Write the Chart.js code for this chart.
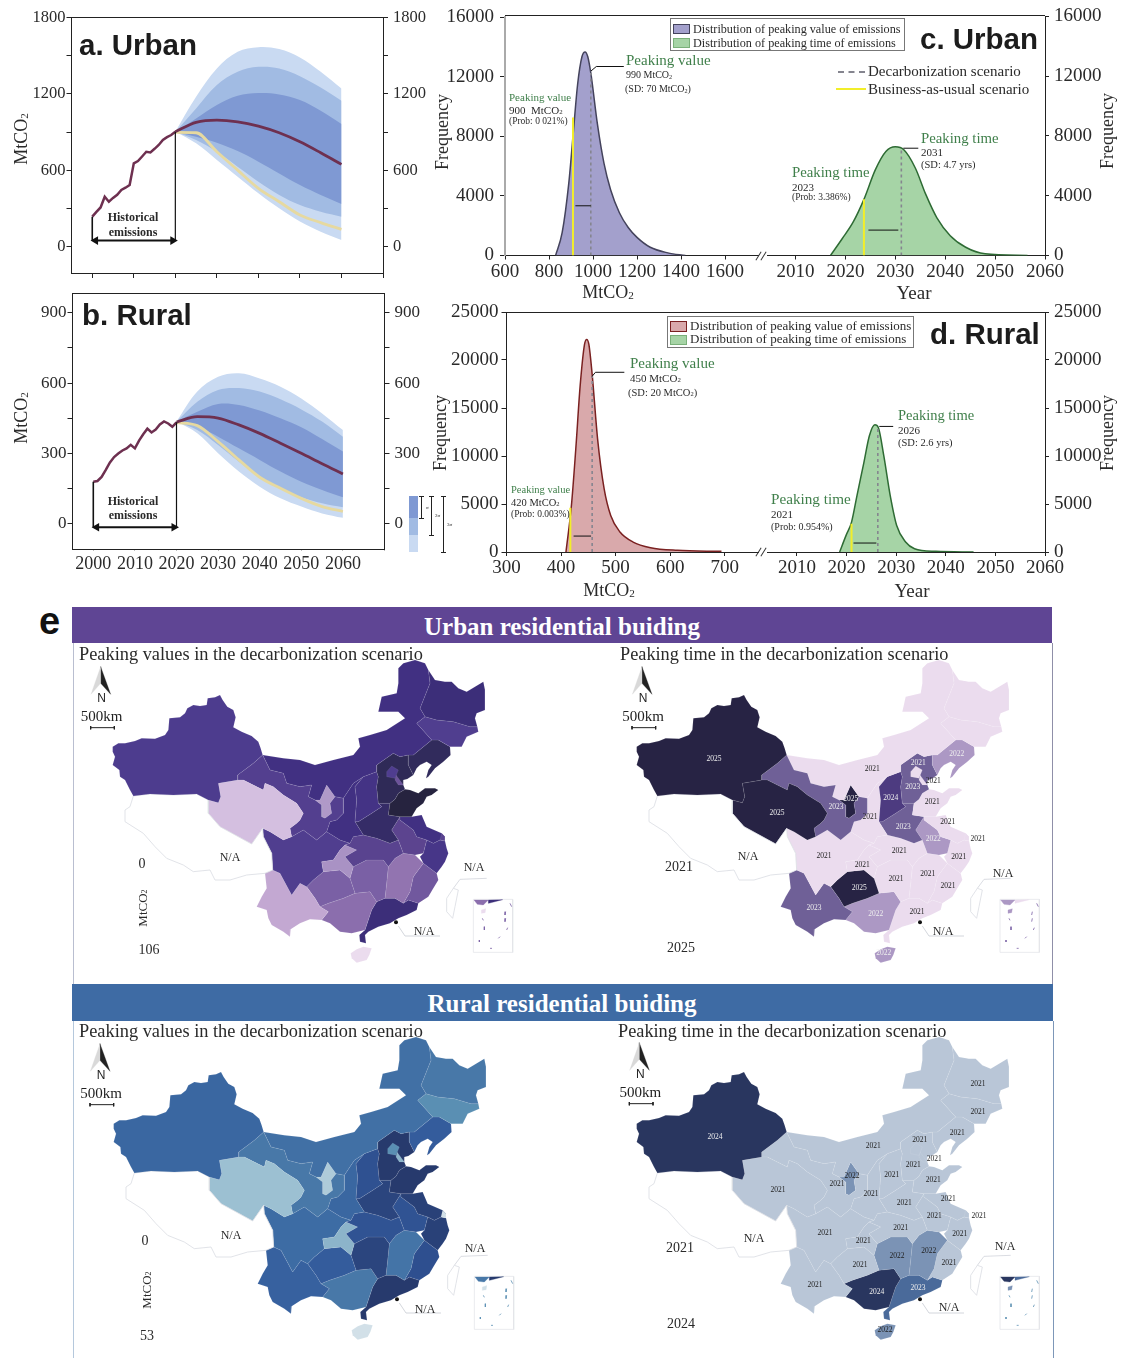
<!DOCTYPE html>
<html><head><meta charset="utf-8">
<style>
html,body{margin:0;padding:0;background:#fff;width:1124px;height:1358px;overflow:hidden}
#stage{position:relative;width:1124px;height:1358px;overflow:hidden}
canvas{position:absolute}
.t{position:absolute;white-space:nowrap;line-height:1;font-family:'Liberation Serif',serif;transform:translateY(-50%)}
.b{position:absolute}
sub{font-size:.62em;line-height:0;vertical-align:-0.1em}
</style>
<script src="https://cdn.jsdelivr.net/npm/chart.js@4"></script>
</head><body><div id="stage"></div>
<script>
/* ---------- panels a, b: emission pathways ---------- */
const histYears=[2000,2001,2002,2003,2004,2005,2006,2007,2008,2009,2010,2011,2012,2013,2014,2015,2016,2017,2018,2019,2020];
const urbanHist=[238,275,310,394,355,385,410,447,465,486,656,674,710,747,742,770,800,840,862,878,904];
const ruralHist=[180,183,200,230,262,285,300,313,322,337,322,355,382,406,390,402,424,437,428,414,433];
const futureYears=[2020,2025,2030,2035,2040,2045,2050,2055,2060];
const urbanMean=[904,977,995,982,948,896,825,739,648];
const urbanBAU=[899,896,747,603,460,355,251,191,138];
const urbanUp1=[904,1008,1113,1186,1207,1196,1152,1068,964];
const urbanLo1=[904,865,818,752,669,577,486,408,337];
const urbanUp2=[904,1087,1270,1374,1413,1400,1340,1251,1147];
const urbanLo2=[904,839,747,630,512,408,329,277,238];
const urbanUp3=[904,1178,1400,1531,1567,1552,1486,1374,1243];
const urbanLo3=[904,813,682,551,421,303,199,120,55];
const ruralMean=[434,457,451,422,386,344,301,256,213];
const ruralBAU=[432,419,351,273,199,152,109,74,53];
const ruralUp1=[436,478,511,507,483,450,412,362,309];
const ruralLo1=[436,415,372,322,273,223,180,145,114];
const ruralUp2=[436,521,571,579,564,531,488,436,372];
const ruralLo2=[436,400,336,265,202,152,114,88,71];
const ruralUp3=[436,564,627,642,620,585,535,471,400];
const ruralLo3=[436,386,301,223,159,109,74,45,26];
const pathYearTicks=[2000,2010,2020,2030,2040,2050,2060,2070];
const pathYearLabels=[2000,2010,2020,2030,2040,2050,2060];
const urbanPathTicks=[0,300,600,900,1200,1500,1800];
const urbanPathLabels=[0,600,1200,1800];
const ruralPathTicks=[0,150,300,450,600,750,900];
const ruralPathLabels=[0,300,600,900];

/* ---------- panels c, d: distributions ---------- */
const cValueX=[830,860,890,910,930,950,964,976,990,1020,1050,1080,1120,1160,1200,1260,1340,1420];
const cValueF=[0,1547,4862,8177,11490,13370,13680,13370,12265,8840,6188,4420,2873,1878,1215,552,177,0];
const cTimeX=[2017,2019.3,2021.5,2023.7,2026,2028.1,2030,2031.7,2034,2036.1,2038.3,2041,2044.1,2048,2056.5];
const cTimeF=[0,1105,2210,3757,5746,6961,7270,7072,5856,4088,2541,1326,552,110,0];
const dValueX=[409,419,427,435,443,447,451,457,467,479,491,508,532,564,613,694];
const dValueF=[0,4844,10726,17300,21625,22144,21625,18510,11764,6574,3806,2076,1038,450,173,69];
const dTimeX=[2018.6,2019.9,2021,2022.1,2023.5,2024.6,2025.7,2026.4,2027.5,2028.8,2030.1,2031.9,2033.7,2038,2045.6];
const dTimeF=[0,1730,3114,5882,9342,12110,13252,12975,10034,5882,2768,1038,346,69,0];
const cFreqTicks=[0,4000,8000,12000,16000];
const dFreqTicks=[0,5000,10000,15000,20000,25000];
const cValueTicks=[600,800,1000,1200,1400,1600];
const dValueTicks=[300,400,500,600,700];
const yearTicks=[2010,2020,2030,2040,2050,2060];

/* ---------- panel e: provinces ---------- */
const provinceNames=['beijing','tianjin','shanghai','xinjiang','tibet','qinghai','gansu','innerMongolia','heilongjiang','jilin','liaoning','hebei','shanxi','shaanxi','ningxia','shandong','henan','jiangsu','anhui','zhejiang','hubei','chongqing','sichuan','yunnan','guizhou','hunan','jiangxi','fujian','guangxi','guangdong','hainan','taiwan'];
const urbanPeak=[75,60,68,76,null,15,72,84,87,74,95,97,82,84,33,106,92,84,66,80,68,36,74,25,55,55,45,58,48,87,5,null];
const ruralPeak=[20,14,6,34,null,12,26,30,26,20,38,50,43,34,10,50,47,48,42,48,42,14,32,36,38,47,28,44,26,50,6,null];
const urbanYear=[2021,2021,2021,2025,null,2025,2023,2021,2021,2021,2022,2023,2024,2021,2025,2021,2023,2021,2022,2021,2021,2021,2021,2023,2025,2021,2021,2021,2022,2021,2022,null];
const ruralYear=[2021,2021,2021,2024,null,2021,2021,2021,2021,2021,2021,2021,2021,2021,2022,2021,2021,2021,2021,2021,2021,2021,2021,2021,2021,2022,2022,2021,2024,2023,2022,null];
const beijing=[950,395,965,378,985,390,975,415,950,410];
const tianjin=[978,405,1000,435,985,435,975,420];
const shanghai=[1115,580,1125,590,1125,603,1110,600];
const xinjiang=[128,320,145,310,165,310,195,303,215,295,255,296,285,285,295,270,298,235,330,232,345,220,352,205,370,195,390,198,410,195,413,175,435,172,450,165,458,180,472,200,490,210,497,232,490,262,515,275,545,288,565,305,572,325,578,345,550,370,503,405,503,420,445,430,452,470,445,488,415,480,380,462,310,465,240,462,190,468,180,450,165,420,150,410,148,390,128,375,135,350,128,335];
const tibet=[190,468,240,462,310,465,380,462,415,480,415,520,450,560,545,612,578,565,580,590,605,640,608,690,585,700,530,705,480,720,435,720,420,690,370,695,340,675,290,655,255,620,220,580,165,545,165,510,180,500];
const qinghai=[445,430,503,420,520,420,580,450,585,430,610,440,640,465,680,490,700,520,690,540,680,550,660,565,665,590,640,600,600,575,578,565,545,612,450,560,415,520,415,480,445,488,452,470];
const gansu=[503,405,550,370,578,345,600,390,640,400,650,430,690,440,725,435,715,470,735,480,755,495,755,530,765,535,785,520,780,490,795,470,820,475,820,500,820,520,800,540,780,545,770,575,740,600,700,570,665,590,660,565,680,550,690,540,700,520,680,490,640,465,610,440,585,430,580,450,520,420,503,420];
const innerMongolia=[578,345,640,355,690,360,735,375,790,360,850,345,870,320,865,295,900,285,950,270,1005,235,985,215,925,215,935,170,980,160,985,130,985,85,1000,70,1035,60,1065,70,1075,90,1080,130,1050,205,1065,230,1040,250,1085,300,1030,345,1015,345,990,350,970,340,920,375,920,395,880,410,850,430,820,475,795,470,770,435,750,480,735,480,715,470,725,435,690,440,650,430,640,400,600,390];
const heilongjiang=[1075,90,1095,120,1125,125,1145,125,1165,145,1190,155,1215,140,1240,125,1245,150,1245,210,1220,220,1215,235,1222,260,1200,260,1150,245,1100,240,1065,230,1050,205,1080,130];
const jilin=[1040,250,1065,230,1100,240,1150,245,1200,260,1222,260,1225,275,1190,290,1175,320,1140,320,1105,300,1085,300];
const liaoning=[1085,300,1105,300,1140,320,1142,345,1120,365,1095,385,1075,410,1068,415,1075,390,1085,375,1070,365,1050,375,1040,385,1030,405,1015,375,1015,345,1030,345];
const hebei=[920,375,970,340,990,350,1015,345,1015,375,1030,405,1012,417,1000,420,1000,435,1005,448,985,460,975,478,960,490,925,490,920,440,925,410,920,395];
const shanxi=[880,410,920,395,925,410,920,440,925,490,935,500,905,520,865,545,855,545,860,480,855,440];
const shaanxi=[820,475,850,430,880,410,855,440,860,480,855,545,880,585,850,590,840,610,810,600,770,575,780,545,800,540,820,520,820,500];
const ningxia=[770,435,795,470,780,490,785,520,765,535,755,530,755,495,735,480,750,480];
const shandong=[960,490,975,478,985,460,1005,448,1020,450,1045,460,1065,445,1095,445,1105,450,1085,465,1070,470,1060,490,1040,505,1025,530,990,530,955,525];
const henan=[855,545,865,545,905,520,935,500,925,490,960,490,955,525,990,530,965,570,985,600,960,610,920,595,880,585];
const jiangsu=[990,530,1025,530,1055,525,1070,560,1115,580,1125,590,1110,600,1090,610,1070,600,1040,590,1030,570,990,540];
const anhui=[965,570,990,530,990,540,1030,570,1040,590,1070,600,1060,640,1035,645,1000,640,985,600];
const zhejiang=[1070,600,1090,610,1110,600,1125,603,1130,625,1135,640,1125,665,1115,680,1100,700,1060,670,1050,650,1060,640];
const hubei=[840,610,850,590,880,585,920,595,960,610,985,600,1000,640,975,655,955,680,940,660,890,660,850,680,825,650,860,630,825,615];
const chongqing=[755,665,790,660,810,630,825,615,860,630,825,650,850,680,840,715,810,690,760,695];
const sichuan=[578,565,600,575,640,600,665,590,700,570,740,600,770,575,810,600,840,610,825,615,810,630,790,660,755,665,760,695,730,720,710,740,690,730,665,765,630,700,608,690,605,640,580,590];
const yunnan=[608,690,630,700,665,765,690,730,710,740,735,775,750,800,775,815,755,840,720,838,690,850,662,868,660,890,640,875,605,855,595,835,590,810,560,800,575,770,590,745,585,700];
const guizhou=[710,740,730,720,760,695,810,690,840,715,855,760,820,775,775,790,750,800,735,775];
const hunan=[850,680,890,660,940,660,955,680,950,730,945,775,920,785,900,755,855,760,840,715];
const jiangxi=[955,680,975,655,1000,640,1035,645,1060,670,1030,710,1020,755,1000,790,975,775,945,775,950,730];
const fujian=[1060,670,1100,700,1105,720,1090,745,1075,770,1045,790,1015,780,1000,790,1020,755,1030,710];
const guangxi=[750,800,775,790,820,775,855,760,900,755,920,785,905,810,885,870,845,880,810,875,780,850,755,840,775,815];
const guangdong=[920,785,945,775,975,775,1000,790,1015,780,1045,790,1040,810,1010,825,985,835,960,850,925,860,895,875,885,885,888,910,870,905,868,885,885,870,905,810];
const hainan=[842,940,860,928,880,920,905,925,898,945,890,960,860,968,845,955];
const taiwan=[1150,745,1165,750,1155,800,1148,835,1130,815,1130,775];
const shapes={beijing,tianjin,shanghai,xinjiang,tibet,qinghai,gansu,innerMongolia,heilongjiang,jilin,liaoning,hebei,shanxi,shaanxi,ningxia,shandong,henan,jiangsu,anhui,zhejiang,hubei,chongqing,sichuan,yunnan,guizhou,hunan,jiangxi,fujian,guangxi,guangdong,hainan,taiwan};
const nineDash=[[1320,790,1325,800],[1307,815,1305,825],[1307,835,1305,845],[1313,863,1310,870],[1285,895,1290,890],[1260,925,1266,925],[1228,900,1228,906],[1243,860,1243,870],[1237,835,1240,841]];
const urbanTimeLabels=[[360,358,'2025'],[549,520,'2025'],[726,502,'2023'],[770,478,'2025'],[828,532,'2021'],[835,388,'2021'],[973,370,'2021'],[1018,424,'2021'],[890,475,'2024'],[956,442,'2023'],[1015,487,'2021'],[1061,547,'2021'],[928,560,'2023'],[1018,598,'2022'],[1152,598,'2021'],[1094,652,'2021'],[916,634,'2021'],[690,649,'2021'],[805,674,'2021'],[906,718,'2021'],[1001,703,'2021'],[1062,739,'2021'],[796,745,'2025'],[660,805,'2023'],[845,823,'2022'],[969,815,'2021'],[869,940,'2022'],[1088,343,'2022']];
const ruralTimeLabels=[[363,361,'2024'],[552,520,'2021'],[838,388,'2021'],[1152,202,'2021'],[1152,286,'2021'],[1090,347,'2021'],[977,370,'2021'],[1021,427,'2021'],[958,445,'2021'],[893,475,'2021'],[1018,490,'2021'],[774,478,'2022'],[729,502,'2021'],[831,532,'2021'],[931,559,'2021'],[1063,547,'2021'],[1021,598,'2021'],[1155,598,'2021'],[920,634,'2021'],[1097,652,'2021'],[693,649,'2021'],[808,673,'2021'],[909,718,'2022'],[1004,703,'2022'],[1065,739,'2021'],[798,745,'2021'],[663,805,'2021'],[848,824,'2024'],[972,814,'2023'],[873,940,'2022']];

/* ---------- style ---------- */
const SERIF="'Liberation Serif',serif", SANS="'Liberation Sans',sans-serif";
const INK='#2a2a2a', GREEN='#3f7f4a', YELLOW='#f2ee2a', MAROON='#6e3050', BAU='#e6d9a0';
const purpleStops=[[5,'#ebdcee'],[15,'#d4bfe0'],[25,'#c3a8d2'],[35,'#ab95c6'],[45,'#9274b0'],[55,'#7a60a5'],[65,'#5d458f'],[75,'#4f3d8f'],[85,'#3f2f80'],[95,'#312b5c'],[106,'#26233f']];
const blueStops=[[6,'#d2e0e8'],[12,'#9cc0d2'],[20,'#5a8fb3'],[26,'#4878a8'],[32,'#3d6ca4'],[38,'#345c9c'],[44,'#2e4f8f'],[50,'#273a6d']];
const purpleYears={2021:'#ebdcee',2022:'#ac98c4',2023:'#6f6097',2024:'#4d3b80',2025:'#272344'};
const blueYears={2021:'#b9c6d7',2022:'#7b93b5',2023:'#4a6a9a',2024:'#29365f'};

const stage=document.getElementById('stage');
function hex(c){return [1,3,5].map(i=>parseInt(c.substr(i,2),16));}
function ramp(stops,v){
  if(v<=stops[0][0])return stops[0][1];
  for(let i=1;i<stops.length;i++){if(v<=stops[i][0]){const t=(v-stops[i-1][0])/(stops[i][0]-stops[i-1][0]);const a=hex(stops[i-1][1]),b=hex(stops[i][1]);return 'rgb('+a.map((x,k)=>Math.round(x+(b[k]-x)*t)).join(',')+')';}}
  return stops[stops.length-1][1];
}
function pts(xs,ys){return xs.map((x,i)=>({x,y:ys[i]}));}
function text(x,y,html,o={}){const d=document.createElement('div');d.className='t';d.innerHTML=html;
  d.style.left=x+'px';d.style.top=y+'px';d.style.fontSize=(o.size||12)+'px';d.style.color=o.color||INK;
  if(o.family)d.style.fontFamily=o.family; if(o.weight)d.style.fontWeight=o.weight;
  let tr='translateY(-50%)'; if(o.center)tr='translate(-50%,-50%)'; if(o.rotate)tr='translate(-50%,-50%) rotate(-90deg)'; d.style.transform=tr;
  stage.appendChild(d);}
function box(x,y,w,h,bg,extra){const d=document.createElement('div');d.className='b';d.style.cssText=`left:${x}px;top:${y}px;width:${w}px;height:${h}px;background:${bg};${extra||''}`;stage.appendChild(d);}
function canvas(l,t,w,h){const c=document.createElement('canvas');c.width=w;c.height=h;c.style.left=l+'px';c.style.top=t+'px';c.style.width=w+'px';c.style.height=h+'px';stage.appendChild(c);return c;}
const tickFont=s=>({family:SERIF,size:s});
function axis(pos,min,max,ticks,labels,size,fit,o={}){
  const horizontal=pos==='bottom'||pos==='top';
  return {type:'linear',position:pos,min,max,display:true,
    afterBuildTicks(a){a.ticks=ticks.map(v=>({value:v}));},
    afterFit(s){if(horizontal)s.height=fit;else s.width=fit;},
    border:{display:true,color:o.lineColor||'#222',width:o.lineWidth||1},
    grid:{drawOnChartArea:false,drawTicks:true,tickLength:o.tick===undefined?5:o.tick,color:'#222',lineWidth:1},
    ticks:{display:labels!==null,autoSkip:false,maxRotation:0,minRotation:0,color:INK,font:tickFont(size),padding:o.pad===undefined?1:o.pad,
      callback:v=>labels&&labels.includes(v)?String(v):''}};
}
const base=(pad)=>({responsive:false,animation:false,devicePixelRatio:1,
  layout:{autoPadding:false,padding:pad},plugins:{legend:{display:false},tooltip:{enabled:false},title:{display:false}},
  elements:{point:{radius:0,hitRadius:0},line:{borderCapStyle:'butt'}},events:[]});
const seg=(xs,ys,color,width,extra)=>Object.assign({type:'scatter',data:pts(xs,ys),showLine:true,borderColor:color,backgroundColor:color,borderWidth:width,pointRadius:0,fill:false,order:1},extra||{});

/* ---------- pathway panels ---------- */
function pathway(c,cfg){
  const band=(u,l,color,order)=>[
    {data:pts(futureYears,u),showLine:true,pointRadius:0,borderWidth:0,backgroundColor:color,fill:'+1',tension:0.35,order},
    {data:pts(futureYears,l),showLine:true,pointRadius:0,borderWidth:0,fill:false,tension:0.35,order}];
  const ds=[...band(cfg.up3,cfg.lo3,'#c9daf2',8),...band(cfg.up2,cfg.lo2,'#a1bbe3',7),...band(cfg.up1,cfg.lo1,'#7f99d3',6),
    seg(futureYears,cfg.bau,BAU,2.8,{cubicInterpolationMode:'monotone',order:3}),
    seg(futureYears,cfg.mean,MAROON,2.8,{cubicInterpolationMode:'monotone',order:2}),
    seg(histYears,cfg.hist,MAROON,2.5,{order:2}),
    seg([2000,2000],[cfg.hist[0],cfg.base],'#111',1.6),
    seg([2020,2020],[cfg.hist[20],cfg.base],'#111',1.2),
    seg([2000.8,2019.4],[cfg.base,cfg.base],'#111',2,{pointStyle:'triangle',pointRadius:5,pointRotation:[-90,90],pointBackgroundColor:'#111',pointBorderWidth:0})];
  return new Chart(c,{type:'scatter',data:{datasets:ds},options:{...base(cfg.pad),scales:{
    x:axis('bottom',1995,2070,pathYearTicks,cfg.xLabels,18,cfg.xFit,{pad:cfg.xPad,tick:cfg.xTick}),
    xTop:axis('top',1995,2070,[],null,1,0,{tick:0}),
    y:axis('left',cfg.min,cfg.max,cfg.ticks,cfg.labels,cfg.yFont,cfg.lFit),
    y2:axis('right',cfg.min,cfg.max,cfg.ticks,cfg.labels,cfg.yFont,cfg.rFit,{pad:5})}}});
}
pathway(canvas(0,0,440,290),{hist:urbanHist,mean:urbanMean,bau:urbanBAU,up1:urbanUp1,lo1:urbanLo1,up2:urbanUp2,lo2:urbanLo2,up3:urbanUp3,lo3:urbanLo3,
  base:50,min:-204,max:1800,ticks:urbanPathTicks,labels:urbanPathLabels,xLabels:null,pad:{top:17.5},xFit:17,lFit:71.5,rFit:57,yFont:16.5,xPad:3,xTick:5});
pathway(canvas(0,266,440,324),{hist:ruralHist,mean:ruralMean,bau:ruralBAU,up1:ruralUp1,lo1:ruralLo1,up2:ruralUp2,lo2:ruralLo2,up3:ruralUp3,lo3:ruralLo3,
  base:-14,min:-108,max:981,ticks:ruralPathTicks,labels:ruralPathLabels,xLabels:pathYearLabels,pad:{top:27.7},xFit:40.7,lFit:72.5,rFit:55.5,yFont:17,xPad:3,xTick:1});

/* ---------- distribution panels ---------- */
function dist(c,sets,cfg){
  const scales={x:axis('bottom',cfg.xMin,cfg.xMax,cfg.xTicks,cfg.xTicks,19,cfg.xFit,{tick:4,pad:1,lineColor:'#222'}),
    y:axis(cfg.side,0,cfg.yMax,cfg.yTicks,cfg.yTicks,19,cfg.yFit,{tick:cfg.side==='left'?cfg.lTick:4,pad:cfg.side==='left'?cfg.lPad:5,lineColor:cfg.axisColor,lineWidth:cfg.axisWidth})};
  return new Chart(c,{type:'scatter',data:{datasets:sets},options:{...base(cfg.pad),scales}});
}
const curve=(xs,ys,fillC,line)=>({data:pts(xs,ys),showLine:true,borderColor:line,backgroundColor:fillC,borderWidth:1.5,pointRadius:0,fill:'origin',cubicInterpolationMode:'monotone',order:5});
const dash=(x,h)=>seg([x,x],[0,h],'#85858f',1.6,{borderDash:[3,3]});
const yellow=(x,h)=>seg([x,x],[0,h],YELLOW,2);
const thin=(xs,ys)=>seg(xs,ys,'#111',1);

dist(canvas(430,0,337,300),[thin([991,1015,1140],[12400,12700,12700]),thin([920,990],[3340,3340]),dash(990,12265),yellow(909,9280),curve(cValueX,cValueF,'#a3a0cc','#44435c')],
  {xMin:600,xMax:1750,xTicks:cValueTicks,xFit:44.5,side:'left',yMax:16000,yTicks:cFreqTicks,yFit:75,lTick:5,lPad:6,axisColor:'#aaa',axisWidth:2,pad:{top:15,right:9}});
dist(canvas(767,0,357,300),[thin([2031.6,2034.6],[7180,7180]),thin([2024.6,2030.6],[1700,1700]),dash(2031.2,7100),yellow(2023.7,3757),curve(cTimeX,cTimeF,'#a6d4a6','#2e6b34')],
  {xMin:2004.27,xMax:2060,xTicks:yearTicks,xFit:44.5,side:'right',yMax:16000,yTicks:cFreqTicks,yFit:79,axisColor:'#222',axisWidth:1,pad:{top:15}});
dist(canvas(430,285,337,315),[thin([457,463,516],[18300,18720,18720]),thin([423,455],[1660,1660]),dash(457,18300),yellow(417,4600),curve(dValueX,dValueF,'#d9a9ab','#7a2121')],
  {xMin:300,xMax:761,xTicks:dValueTicks,xFit:48,side:'left',yMax:25000,yTicks:dFreqTicks,yFit:76.5,lTick:5,lPad:3,axisColor:'#222',axisWidth:1,pad:{top:27,right:9}});
dist(canvas(767,285,357,315),[thin([2026.6,2029.4],[13080,13080]),thin([2021.4,2026],[934,934]),dash(2026.3,13000),yellow(2021,2940),curve(dTimeX,dTimeF,'#a6d4a6','#2e6b34')],
  {xMin:2003.96,xMax:2060,xTicks:yearTicks,xFit:48,side:'right',yMax:25000,yTicks:dFreqTicks,yFit:79,axisColor:'#222',axisWidth:1,pad:{top:27}});
box(505,15,540,1,'#222'); box(506,312,539,1,'#222');
box(759,255,8,2,'#fff'); box(759,551,8,2,'#fff');
[[758,255.5],[763,255.5],[758,552],[763,552]].forEach(p=>box(p[0],p[1]-5,1,10,'#333','transform:rotate(32deg)'));

/* ---------- maps ---------- */
const textPlugin={id:'mapText',afterDatasetsDraw(chart,args,opts){const ctx=chart.ctx;ctx.save();ctx.textAlign='center';ctx.textBaseline='middle';
  opts.items.forEach(t=>{ctx.font=t.font;ctx.fillStyle=t.color;ctx.fillText(t.text,chart.scales.x.getPixelForValue(t.x),chart.scales.y.getPixelForValue(t.y));});ctx.restore();}};
function map(left,top,cfg){
  const c=canvas(left,top,520,341), ds=[];
  const poly=(arr,dx,dy,fillC,line,w,order)=>{const xs=[],ys=[];for(let i=0;i<arr.length;i+=2){xs.push(arr[i]+dx);ys.push(arr[i+1]+dy);}xs.push(xs[0]);ys.push(ys[0]);
    ds.push({data:pts(xs,ys),showLine:true,pointRadius:0,backgroundColor:fillC,borderColor:line,borderWidth:w,fill:'shape',order});};
  provinceNames.forEach((n,i)=>{const v=cfg.values[i];
    if(v===null)poly(shapes[n],0,0,'#ffffff','#d9dce2',0.8,10);
    else poly(shapes[n],0,0,cfg.colour(v),'rgba(255,255,255,0.16)',0.5,i<3?5:10);});
  const idx=n=>cfg.values[provinceNames.indexOf(n)];
  const [ix,cx,cy]=[cfg.inset,cfg.compass[0],cfg.compass[1]];
  const L=(xs,ys,col,w)=>ds.push(seg(xs,ys,col,w));
  L([1150,1170,1250],[745,718,715],'#d0d3da',0.8);
  L([985,1005,1110],[858,888,888],'#c8ccd3',0.8);
  ds.push(seg([978],[847],'#111',0,{pointRadius:2,pointBackgroundColor:'#111',pointBorderWidth:0,showLine:false}));
  poly([1210,778,1328,778,1328,937,1210,937],ix,0,'rgba(255,255,255,0)','#e3e5ea',0.8,12);
  poly([1212,780,1255,780,1240,795,1222,793],ix,0,cfg.colour(idx('guangxi')),cfg.colour(idx('guangxi')),0.3,3);
  poly([1255,780,1298,779,1256,790],ix,0,cfg.colour(idx('guangdong')),cfg.colour(idx('guangdong')),0.3,3);
  poly([1234,810,1247,806,1245,818,1235,820],ix,0,cfg.colour(idx('hainan')),cfg.colour(idx('hainan')),0.3,3);
  nineDash.forEach(d=>L([d[0]+ix,d[2]+ix],[d[1],d[3]],cfg.dash,0.8));
  poly([92,80,63,163,92,130],cx,cy,'#d9d9d9','#d9d9d9',0.3,3);
  poly([92,80,92,130,122,163],cx,cy,'#222','#222',0.3,3);
  L([62+cx,133+cx],[263+cy,263+cy],'#222',1);
  L([62+cx,62+cx],[258+cy,268+cy],'#222',1);
  L([133+cx,133+cx],[258+cy,268+cy],'#222',1);
  const items=[{x:95+cx,y:176+cy,text:'N',font:`12px ${SANS}`,color:'#222'},{x:95+cx,y:232+cy,text:'500km',font:`15px ${SERIF}`,color:'#222'}];
  (cfg.labels||[]).forEach(l=>items.push({x:l[0],y:l[1],text:l[2],font:`7.5px ${SERIF}`,color:l[2]==='2021'&&!(cfg.whiteOn&&cfg.whiteOn.includes(l[0]))?'#222':(l[2]==='2022'&&cfg.dark2022?'#222':'#eee')}));
  new Chart(c,{type:'scatter',data:{datasets:ds},plugins:[textPlugin],options:{...base(0),plugins:{legend:{display:false},tooltip:{enabled:false},mapText:{items}},
    scales:{x:{type:'linear',display:false,min:0,max:1560},y:{type:'linear',display:false,min:0,max:1023,reverse:true}}}});
}
map(70,640,{values:urbanPeak,colour:v=>ramp(purpleStops,v),inset:0,compass:[0,0],dash:'#7a60a5'});
map(594,640,{values:urbanYear,colour:v=>purpleYears[v],inset:8,compass:[52,0],dash:'#7a60a5',labels:urbanTimeLabels,whiteOn:[973]});
map(71,1017,{values:ruralPeak,colour:v=>ramp(blueStops,v),inset:0,compass:[-5,0],dash:'#5a8fb3'});
map(594,1017,{values:ruralYear,colour:v=>blueYears[v],inset:8,compass:[44,-3],dash:'#5a8fb3',labels:ruralTimeLabels,dark2022:true});

/* ---------- text, bars and frame ---------- */
const MT='MtCO<sub>2</sub>';
text(79,45,'a. Urban',{size:29.5,weight:'bold',family:SANS,color:'#1c1c1c'});
text(82,315,'b. Rural',{size:29.5,weight:'bold',family:SANS,color:'#1c1c1c'});
text(920,39,'c. Urban',{size:29.5,weight:'bold',family:SANS,color:'#1c1c1c'});
text(930,334,'d. Rural',{size:29.5,weight:'bold',family:SANS,color:'#1c1c1c'});
text(21,139,MT,{size:18,rotate:true}); text(21,418,MT,{size:18,rotate:true});
text(133,217,'Historical',{size:12,weight:'bold',center:true}); text(133,232,'emissions',{size:12,weight:'bold',center:true});
text(133,501,'Historical',{size:12,weight:'bold',center:true}); text(133,515,'emissions',{size:12,weight:'bold',center:true});
/* sigma key */
box(409,496,9,22,'#7f99d3');box(409,518,9,17,'#a1bbe3');box(409,535,9,17,'#c9daf2');
[[420.5,496,518],[431,496,535],[442.5,496,552]].forEach(b=>{box(b[0],b[1],1,b[2]-b[1],'#222');box(b[0]-2,b[1],5,1,'#222');box(b[0]-2,b[2],5,1,'#222');});
text(426,507,'σ',{size:5});text(435,515,'2σ',{size:5});text(447,524,'3σ',{size:5});
/* panel c */
text(442,132,'Frequency',{size:18,rotate:true}); text(1107,131,'Frequency',{size:18,rotate:true});
text(608,292,MT,{size:18,center:true}); text(914,292,'Year',{size:19,center:true});
const boxStyle='border:1px solid #777;box-sizing:border-box';
box(670,18,235,33,'#fff',boxStyle);
box(673,24,17,10,'#a3a0cc','border:1px solid #44435c;box-sizing:border-box');box(673,38,17,10,'#a6d4a6','border:1px solid #7ab07a;box-sizing:border-box');
text(693,28.5,'Distribution of peaking value of emissions',{size:12.2});text(693,43,'Distribution of peaking time of emissions',{size:12.2});
box(838,71,27,0,'','border-top:2px dashed #85858f');box(836,88,30,2,YELLOW);
text(868,71,'Decarbonization scenario',{size:15});text(868,89,'Business-as-usual scenario',{size:15});
text(626,60,'Peaking value',{size:15,color:GREEN});text(626,75,'990 '+MT,{size:10});text(625,89,'(SD: 70 '+MT+')',{size:10});
text(509,97,'Peaking value',{size:11,color:GREEN});text(509,110,'900&nbsp; '+MT,{size:11});text(509,122,'(Prob: 0 021%)',{size:9.5});
text(921,138,'Peaking time',{size:14.8,color:GREEN});text(921,152,'2031',{size:11});text(921,165,'(SD: 4.7 yrs)',{size:10.5});
text(792,172,'Peaking time',{size:14.8,color:GREEN});text(792,187,'2023',{size:11});text(792,198,'(Prob: 3.386%)',{size:9.5});
/* panel d */
text(440,433,'Frequency',{size:18,rotate:true}); text(1107,433,'Frequency',{size:18,rotate:true});
text(609,590,MT,{size:18,center:true}); text(912,590,'Year',{size:19,center:true});
box(667,316,247,32,'#fff',boxStyle);
box(670,321,17,11,'#d9a9ab','border:1px solid #7a2121;box-sizing:border-box');box(670,335,17,10,'#a6d4a6','border:1px solid #7ab07a;box-sizing:border-box');
text(690,325,'Distribution of peaking value of emissions',{size:13});text(690,338,'Distribution of peaking time of emissions',{size:13});
text(630,363,'Peaking value',{size:15,color:GREEN});text(630,378,'450 '+MT,{size:11});text(628,393,'(SD: 20 '+MT+')',{size:10.5});
text(511,490,'Peaking value',{size:10.5,color:GREEN});text(511,503,'420 '+MT,{size:10.5});text(511,515,'(Prob: 0.003%)',{size:9.5});
text(898,415,'Peaking time',{size:14.5,color:GREEN});text(898,430,'2026',{size:11});text(898,443,'(SD: 2.6 yrs)',{size:10.5});
text(771,499,'Peaking time',{size:15.2,color:GREEN});text(771,514,'2021',{size:11});text(771,527,'(Prob: 0.954%)',{size:10});
/* panel e */
text(39,621,'e',{size:38,weight:'bold',family:SANS,color:'#111'});
box(72,607,980,36,'#5f4594');box(72,984,981,37,'#3e6ba4');
text(562,626,'Urban residential buiding',{size:25,weight:'bold',color:'#fff',center:true});
text(562,1003,'Rural residential buiding',{size:25,weight:'bold',color:'#fff',center:true});
box(73,643,1,341,'#b9bed0');box(1052,643,1,341,'#8f8fa8');box(73,1021,1,337,'#b5c8dc');box(1053,1021,1,337,'#7d97b8');
text(79,654,'Peaking values in the decarbonization scenario',{size:18.35});
text(620,654,'Peaking time in the decarbonization scenario',{size:18.3});
text(79,1031,'Peaking values in the decarbonization scenario',{size:18.35});
text(618,1031,'Peaking time in the decarbonization scenario',{size:18.3});
[[230,857],[474,867],[424,931],[748,856],[1003,873],[943,931],[231,1235],[475,1248],[425,1309],[754,1238],[1005,1246],[949,1307]].forEach(p=>text(p[0],p[1],'N/A',{size:12,center:true}));
text(142,864,'0',{size:14,center:true});text(142,908,MT,{size:13,rotate:true});text(149,950,'106',{size:14,center:true});
text(679,867,'2021',{size:14,center:true});text(681,948,'2025',{size:14,center:true});
text(145,1241,'0',{size:14,center:true});text(146,1290,MT,{size:13,rotate:true});text(147,1336,'53',{size:14,center:true});
text(680,1248,'2021',{size:14,center:true});text(681,1324,'2024',{size:14,center:true});
</script></body></html>
